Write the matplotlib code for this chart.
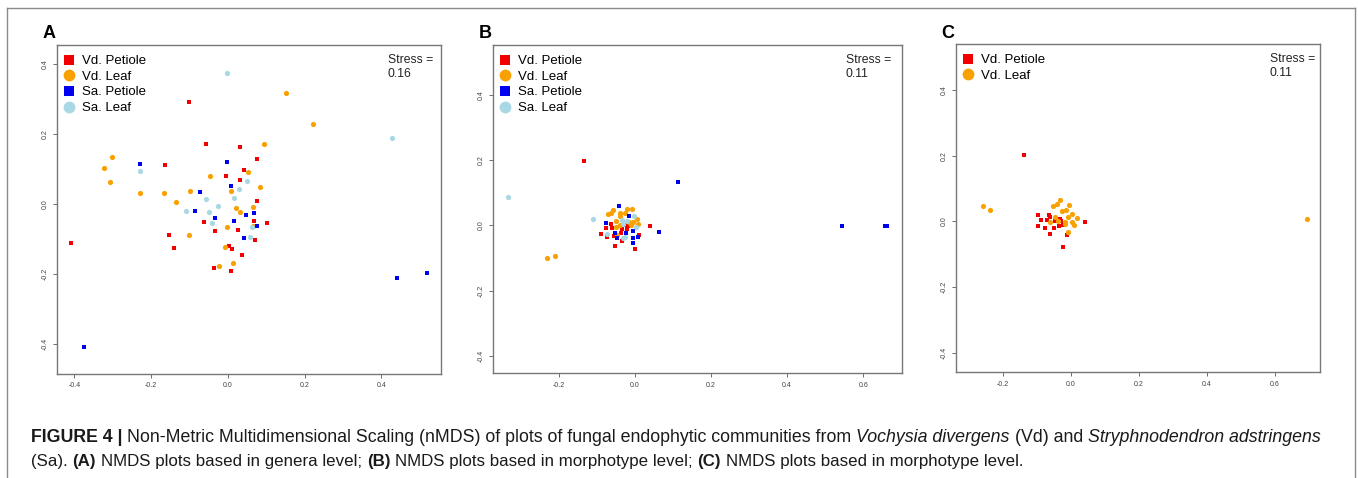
import numpy as np
import matplotlib.pyplot as plt
from matplotlib.lines import Line2D

# ---- panel A (genera level) ----
a_vd_pet_x = [-0.102, -0.056, 0.031, 0.076, -0.164, 0.041, -0.005, 0.031, 0.076, -0.063, 0.069, 0.101,
              -0.034, 0.026, -0.154, 0.070, -0.140, 0.004, 0.010, 0.036, -0.037, 0.008, -0.410]
a_vd_pet_y = [0.292, 0.171, 0.163, 0.129, 0.112, 0.096, 0.079, 0.068, 0.008, -0.053, -0.048, -0.056,
              -0.078, -0.076, -0.090, -0.102, -0.125, -0.120, -0.129, -0.147, -0.183, -0.192, -0.113]
a_vd_leaf_x = [0.152, 0.221, 0.094, -0.303, -0.323, -0.308, -0.047, 0.051, 0.083, -0.229, -0.166, -0.098,
               0.008, -0.136, 0.021, 0.031, 0.066, 0.066, -0.002, -0.101, -0.007, -0.022, 0.013]
a_vd_leaf_y = [0.317, 0.229, 0.172, 0.133, 0.103, 0.063, 0.079, 0.090, 0.047, 0.030, 0.030, 0.038,
               0.036, 0.006, -0.012, -0.024, -0.008, -0.062, -0.067, -0.090, -0.123, -0.177, -0.169]
a_sa_pet_x = [-0.228, -0.003, 0.008, -0.072, -0.085, -0.033, 0.016, 0.047, 0.068, 0.077, 0.043, 0.440, 0.519, -0.376]
a_sa_pet_y = [0.114, 0.119, 0.050, 0.035, -0.021, -0.041, -0.048, -0.033, -0.027, -0.063, -0.097, -0.213, -0.197, -0.410]
a_sa_leaf_x = [-0.002, 0.427, -0.228, 0.050, 0.029, -0.056, 0.015, -0.027, -0.109, -0.049, -0.042, 0.062, 0.057]
a_sa_leaf_y = [0.374, 0.188, 0.095, 0.066, 0.043, 0.013, 0.017, -0.006, -0.020, -0.022, -0.055, -0.067, -0.096]

# ---- panel B (morphotype level) ----
b_vd_pet_x = [-0.133, 0.040, -0.088, -0.075, -0.073, -0.063, -0.061, -0.055, -0.053, -0.035, -0.036, -0.033,
              -0.026, -0.020, -0.018, 0.001, 0.011]
b_vd_pet_y = [0.196, -0.002, -0.027, -0.007, -0.036, 0.004, -0.009, -0.033, -0.063, -0.011, -0.024, -0.047,
              0.001, -0.012, -0.001, -0.071, -0.030]
b_vd_leaf_x = [-0.231, -0.209, -0.070, -0.063, -0.058, -0.040, -0.039, -0.021, -0.009, -0.025, 0.005, -0.004,
               -0.050, -0.038, -0.015, -0.010, 0.007, -0.050, -0.048]
b_vd_leaf_y = [-0.099, -0.094, 0.034, 0.039, 0.047, 0.039, 0.029, 0.049, 0.051, 0.039, 0.020, 0.010,
               0.014, 0.000, 0.009, 0.000, 0.003, -0.006, -0.030]
b_sa_pet_x = [0.114, -0.043, -0.016, -0.076, -0.053, -0.048, -0.023, -0.004, -0.004, -0.004, 0.009, 0.063,
              0.544, 0.657, 0.662]
b_sa_pet_y = [0.133, 0.060, 0.030, 0.007, -0.022, -0.039, -0.022, -0.017, -0.040, -0.055, -0.037, -0.020,
              -0.001, -0.003, -0.001]
b_sa_leaf_x = [-0.335, -0.111, -0.035, -0.022, -0.002, -0.031, 0.004, -0.073, -0.031, -0.025]
b_sa_leaf_y = [0.088, 0.018, 0.016, 0.012, 0.030, 0.004, -0.004, -0.028, -0.040, -0.036]

# ---- panel C (morphotype level, Vd only) ----
c_vd_pet_x = [-0.138, -0.096, -0.096, -0.088, -0.075, -0.071, -0.063, -0.061, -0.061, -0.048, -0.045, -0.031,
              -0.027, -0.033, -0.022, -0.011, -0.022, 0.041]
c_vd_pet_y = [0.203, 0.018, -0.013, 0.003, -0.020, 0.004, 0.019, 0.014, -0.038, -0.020, 0.000, 0.007,
              0.001, -0.015, -0.012, -0.043, -0.077, -0.002]
c_vd_leaf_x = [-0.259, -0.237, 0.694, -0.030, -0.041, -0.053, -0.005, -0.026, -0.015, 0.004, -0.046, -0.009,
               0.019, -0.062, -0.037, -0.017, 0.005, 0.010, -0.009, -0.018]
c_vd_leaf_y = [0.047, 0.035, 0.006, 0.065, 0.052, 0.048, 0.049, 0.031, 0.034, 0.023, 0.014, 0.013,
               0.009, -0.001, 0.002, -0.001, -0.002, -0.011, -0.032, -0.008]

stress_values = ["0.16", "0.11", "0.11"]
panel_letters = ["A", "B", "C"]
group_names = ["Vd. Petiole", "Vd. Leaf", "Sa. Petiole", "Sa. Leaf"]
group_colors = ["#f00000", "#f9a100", "#0000f0", "#a8d8e4"]
group_markers = ["s", "o", "s", "o"]

panels = [
    [(a_vd_pet_x, a_vd_pet_y), (a_vd_leaf_x, a_vd_leaf_y), (a_sa_pet_x, a_sa_pet_y), (a_sa_leaf_x, a_sa_leaf_y)],
    [(b_vd_pet_x, b_vd_pet_y), (b_vd_leaf_x, b_vd_leaf_y), (b_sa_pet_x, b_sa_pet_y), (b_sa_leaf_x, b_sa_leaf_y)],
    [(c_vd_pet_x, c_vd_pet_y), (c_vd_leaf_x, c_vd_leaf_y)],
]
xlims = [(-0.446, 0.555), (-0.374, 0.703), (-0.338, 0.733)]
ylims = [(-0.486, 0.454), (-0.453, 0.552), (-0.460, 0.540)]
xticks = [[-0.4, -0.2, 0.0, 0.2, 0.4], [-0.2, 0.0, 0.2, 0.4, 0.6], [-0.2, 0.0, 0.2, 0.4, 0.6]]
yticks = [[-0.4, -0.2, 0.0, 0.2, 0.4]] * 3

plt.rcParams['font.family'] = ['Liberation Sans', 'DejaVu Sans']
plt.rcParams['axes.unicode_minus'] = False

W, H = 1358, 478
fig = plt.figure(figsize=(W / 100, H / 100), dpi=100)

# axes boxes in pixels: left, top, right, bottom
boxes = [(56.7, 45, 441, 374), (492.7, 45, 902.3, 373.3), (955.7, 44, 1320, 372.3)]

for i, (l, t, r, b) in enumerate(boxes):
    ax = fig.add_axes([l / W, 1 - b / H, (r - l) / W, (b - t) / H])
    groups = panels[i]
    handles = []
    for g, (xs, ys) in enumerate(groups):
        ax.scatter(xs, ys, s=12 if group_markers[g] == "s" else 14, marker=group_markers[g],
                   color=group_colors[g], linewidths=0, zorder=3)
        handles.append(Line2D([], [], linestyle="none", marker=group_markers[g],
                              markersize=7.5 if group_markers[g] == "s" else 8.5,
                              markerfacecolor=group_colors[g], markeredgewidth=0,
                              label=group_names[g]))
    ax.set_xlim(*xlims[i])
    ax.set_ylim(*ylims[i])
    ax.set_xticks(xticks[i])
    ax.set_yticks(yticks[i])
    ax.set_xticklabels([f"{v:.1f}" for v in xticks[i]])
    ax.set_yticklabels([f"{v:.1f}" for v in yticks[i]], rotation=90, va="center")
    ax.tick_params(labelsize=5, length=3, width=0.6, color="#555555", labelcolor="#444444", pad=3)
    for sp in ax.spines.values():
        sp.set_color("#777777")
        sp.set_linewidth(1.0)

    ax.legend(handles=handles, loc="upper left", bbox_to_anchor=(-4 / (r - l), 1.0), frameon=False,
              fontsize=9.5, handlelength=0.9, handletextpad=0.55, labelspacing=0.26,
              borderpad=0.55, borderaxespad=0.2)
    ax.text(0.862, 0.972, "Stress =\n" + stress_values[i], transform=ax.transAxes,
            ha="left", va="top", fontsize=8.8, linespacing=1.2, color="#222222")
    fig.text((l - 14) / W, 1 - 37.5 / H, panel_letters[i], fontsize=13, weight="bold",
             ha="left", va="baseline")

# outer frame
for (x0, y0, x1, y1) in [(7, 8, 7, H), (7, 8, 1355, 8), (1355, 8, 1355, H)]:
    fig.add_artist(Line2D([x0 / W, x1 / W], [1 - y0 / H, 1 - y1 / H], color="#8a8a8a",
                          linewidth=1.0, transform=fig.transFigure))

# caption, drawn piece by piece
cap_line1 = [("FIGURE 4 |", "bold", "normal"),
             ("Non-Metric Multidimensional Scaling (nMDS) of plots of fungal endophytic communities from", "normal", "normal"),
             ("Vochysia divergens", "normal", "italic"),
             ("(Vd) and", "normal", "normal"),
             ("Stryphnodendron adstringens", "normal", "italic")]
cap_line2 = [("(Sa).", "normal", "normal"), ("(A)", "bold", "normal"),
             ("NMDS plots based in genera level;", "normal", "normal"), ("(B)", "bold", "normal"),
             ("NMDS plots based in morphotype level;", "normal", "normal"), ("(C)", "bold", "normal"),
             ("NMDS plots based in morphotype level.", "normal", "normal")]

renderer = fig.canvas.get_renderer()


def text_width(s, size, **kw):
    t = fig.text(0, 0, s, fontsize=size, **kw)
    w = t.get_window_extent(renderer).width
    t.remove()
    return w


def draw_caption_line(parts, x_px, base_px, size):
    space_w = text_width("a a", size) - text_width("aa", size)
    x = x_px
    for s, w, st in parts:
        t = fig.text(x / W, 1 - base_px / H, s, fontsize=size, weight=w, style=st,
                     ha="left", va="baseline", color="#1a1a1a")
        x += t.get_window_extent(renderer).width + space_w


draw_caption_line(cap_line1, 31, 442, 12.8)
draw_caption_line(cap_line2, 31, 466, 12.2)

fig.savefig("out.png", dpi=100)
